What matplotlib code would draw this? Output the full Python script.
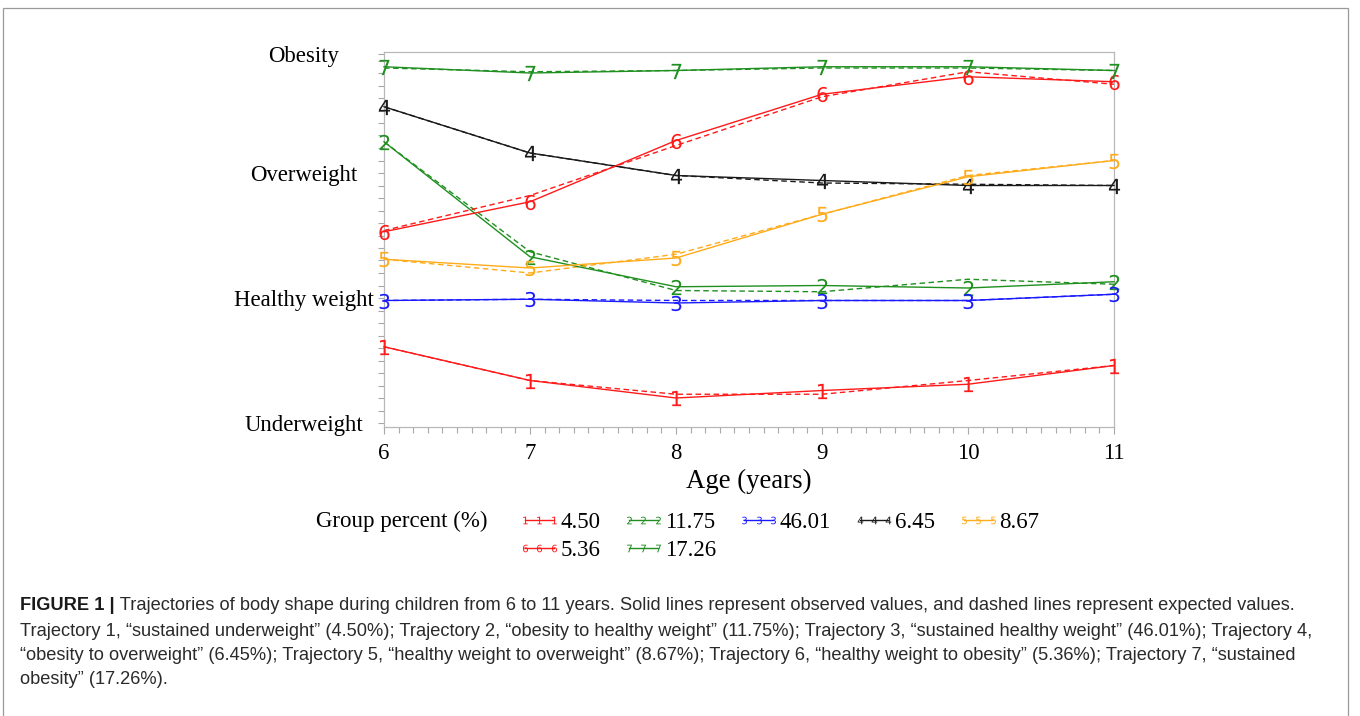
import matplotlib
matplotlib.use('Agg')
import matplotlib.pyplot as plt
from matplotlib.lines import Line2D
from matplotlib.patches import Rectangle
from matplotlib.ticker import MultipleLocator

# ---------------- data ----------------
ages = [6, 7, 8, 9, 10, 11]

obs_1 = [1.61, 1.34, 1.20, 1.26, 1.31, 1.46]
exp_1 = [1.61, 1.34, 1.23, 1.23, 1.34, 1.46]
obs_2 = [3.25, 2.33, 2.09, 2.10, 2.08, 2.13]
exp_2 = [3.25, 2.37, 2.06, 2.05, 2.15, 2.11]
obs_3 = [1.98, 1.99, 1.96, 1.98, 1.98, 2.03]
exp_3 = [1.98, 1.99, 1.98, 1.98, 1.98, 2.03]
obs_4 = [3.53, 3.16, 2.98, 2.94, 2.90, 2.90]
exp_4 = [3.53, 3.16, 2.98, 2.92, 2.91, 2.90]
obs_5 = [2.31, 2.24, 2.32, 2.67, 2.97, 3.10]
exp_5 = [2.31, 2.20, 2.35, 2.67, 2.98, 3.10]
obs_6 = [2.53, 2.77, 3.26, 3.63, 3.77, 3.73]
exp_6 = [2.54, 2.82, 3.22, 3.61, 3.81, 3.71]
obs_7 = [3.85, 3.80, 3.82, 3.85, 3.85, 3.82]
exp_7 = [3.84, 3.81, 3.82, 3.84, 3.84, 3.82]

group_ids = ['1', '2', '3', '4', '5', '6', '7']
group_pct = ['4.50', '11.75', '46.01', '6.45', '8.67', '5.36', '17.26']
group_colors = ['#ff1a1a', '#1f8f1f', '#1a1aff', '#1a1a1a', '#ffab1a', '#ff1a1a', '#1f8f1f']

ytick_values = [1, 2, 3, 3.95]
ytick_labels = ['Underweight', 'Healthy weight', 'Overweight', 'Obesity']

caption_bold = 'FIGURE 1 |'
caption_lines = [
    ' Trajectories of body shape during children from 6 to 11 years. Solid lines represent observed values, and dashed lines represent expected values.',
    'Trajectory 1, \u201csustained underweight\u201d (4.50%); Trajectory 2, \u201cobesity to healthy weight\u201d (11.75%); Trajectory 3, \u201csustained healthy weight\u201d (46.01%); Trajectory 4,',
    '\u201cobesity to overweight\u201d (6.45%); Trajectory 5, \u201chealthy weight to overweight\u201d (8.67%); Trajectory 6, \u201chealthy weight to obesity\u201d (5.36%); Trajectory 7, \u201csustained',
    'obesity\u201d (17.26%).',
]

observed = [obs_1, obs_2, obs_3, obs_4, obs_5, obs_6, obs_7]
expected = [exp_1, exp_2, exp_3, exp_4, exp_5, exp_6, exp_7]

SERIF = 'Liberation Serif'
SANS = 'Liberation Sans'

W, H = 1360, 716
fig = plt.figure(figsize=(W / 100, H / 100), dpi=100)

# outer frame
fig.patches.append(Rectangle((3 / W, -0.05), (1348 - 3) / W, 1.05 - 8 / H,
                             transform=fig.transFigure, fill=False,
                             edgecolor='#9a9a9a', lw=0.9))

ax = fig.add_axes([384 / W, 1 - 427 / H, (1114 - 384) / W, (427 - 52) / H])

for i in range(7):
    c = group_colors[i]
    ax.plot(ages, expected[i], color=c, lw=1.0, ls=(0, (4, 2.5)), zorder=2)
    ax.plot(ages, observed[i], color=c, lw=1.0, ls='-', marker='$%s$' % group_ids[i],
            markersize=11, markeredgewidth=0, markerfacecolor=c, zorder=3,
            clip_on=False)

ax.set_xlim(6, 11)
ax.set_ylim(0.968, 3.968)
ax.set_xticks(ages)
ax.set_xticklabels([str(a) for a in ages])
ax.xaxis.set_minor_locator(MultipleLocator(0.1))
ax.set_yticks(ytick_values)
ax.set_yticklabels(ytick_labels)
ax.yaxis.set_minor_locator(MultipleLocator(0.1))

for s in ax.spines.values():
    s.set_color('#b8b8b8')
    s.set_linewidth(0.9)

ax.tick_params(axis='both', which='both', direction='out', color='#a8a8a8', width=0.8)
ax.tick_params(axis='x', which='major', length=5, pad=6.5)
ax.tick_params(axis='x', which='minor', length=4)
ax.tick_params(axis='y', which='both', length=4)
ax.tick_params(axis='y', which='major', pad=54)
for lab in ax.get_yticklabels():
    lab.set_fontfamily(SERIF)
    lab.set_fontsize(16.4)
    lab.set_ha('center')
for lab in ax.get_xticklabels():
    lab.set_fontfamily(SERIF)
    lab.set_fontsize(16.4)

ax.set_xlabel('Age (years)', fontfamily=SERIF, fontsize=19.3, labelpad=3.5)

# legend
fig.text(316 / W, 1 - 521 / H, 'Group percent (%)', family=SERIF, fontsize=16.5,
         ha='left', va='center')
handles = [Line2D([], [], color=group_colors[i], lw=1.0, marker='$%s$' % group_ids[i],
                  markersize=5.5, markeredgewidth=0, markerfacecolor=group_colors[i])
           for i in range(7)]
order = [0, 5, 1, 6, 2, 3, 4]
fig.legend([handles[i] for i in order], [group_pct[i] for i in order],
           loc='upper left', bbox_to_anchor=(518 / W, 1 - 512 / H), ncol=5,
           frameon=False, prop={'family': SERIF, 'size': 16.5}, handlelength=1.85,
           handletextpad=0.0, columnspacing=0.95, labelspacing=0.3,
           borderaxespad=0, borderpad=0, numpoints=3)

# caption
cap_size = 13.15
line_y = [606, 631, 655, 680]
tb = fig.text(20 / W, 1 - line_y[0] / H, caption_bold, family=SANS, fontsize=cap_size,
              fontweight='bold', ha='left', va='center', color='#1a1a1a')
ax.annotate(caption_lines[0], xy=(1, 0), xycoords=tb, ha='left', va='bottom',
            family=SANS, fontsize=cap_size, color='#2a2a2a', annotation_clip=False)
for k in range(1, 4):
    fig.text(20 / W, 1 - line_y[k] / H, caption_lines[k], family=SANS, fontsize=cap_size,
             color='#2a2a2a', ha='left', va='center')

fig.savefig('out.png', dpi=100)
